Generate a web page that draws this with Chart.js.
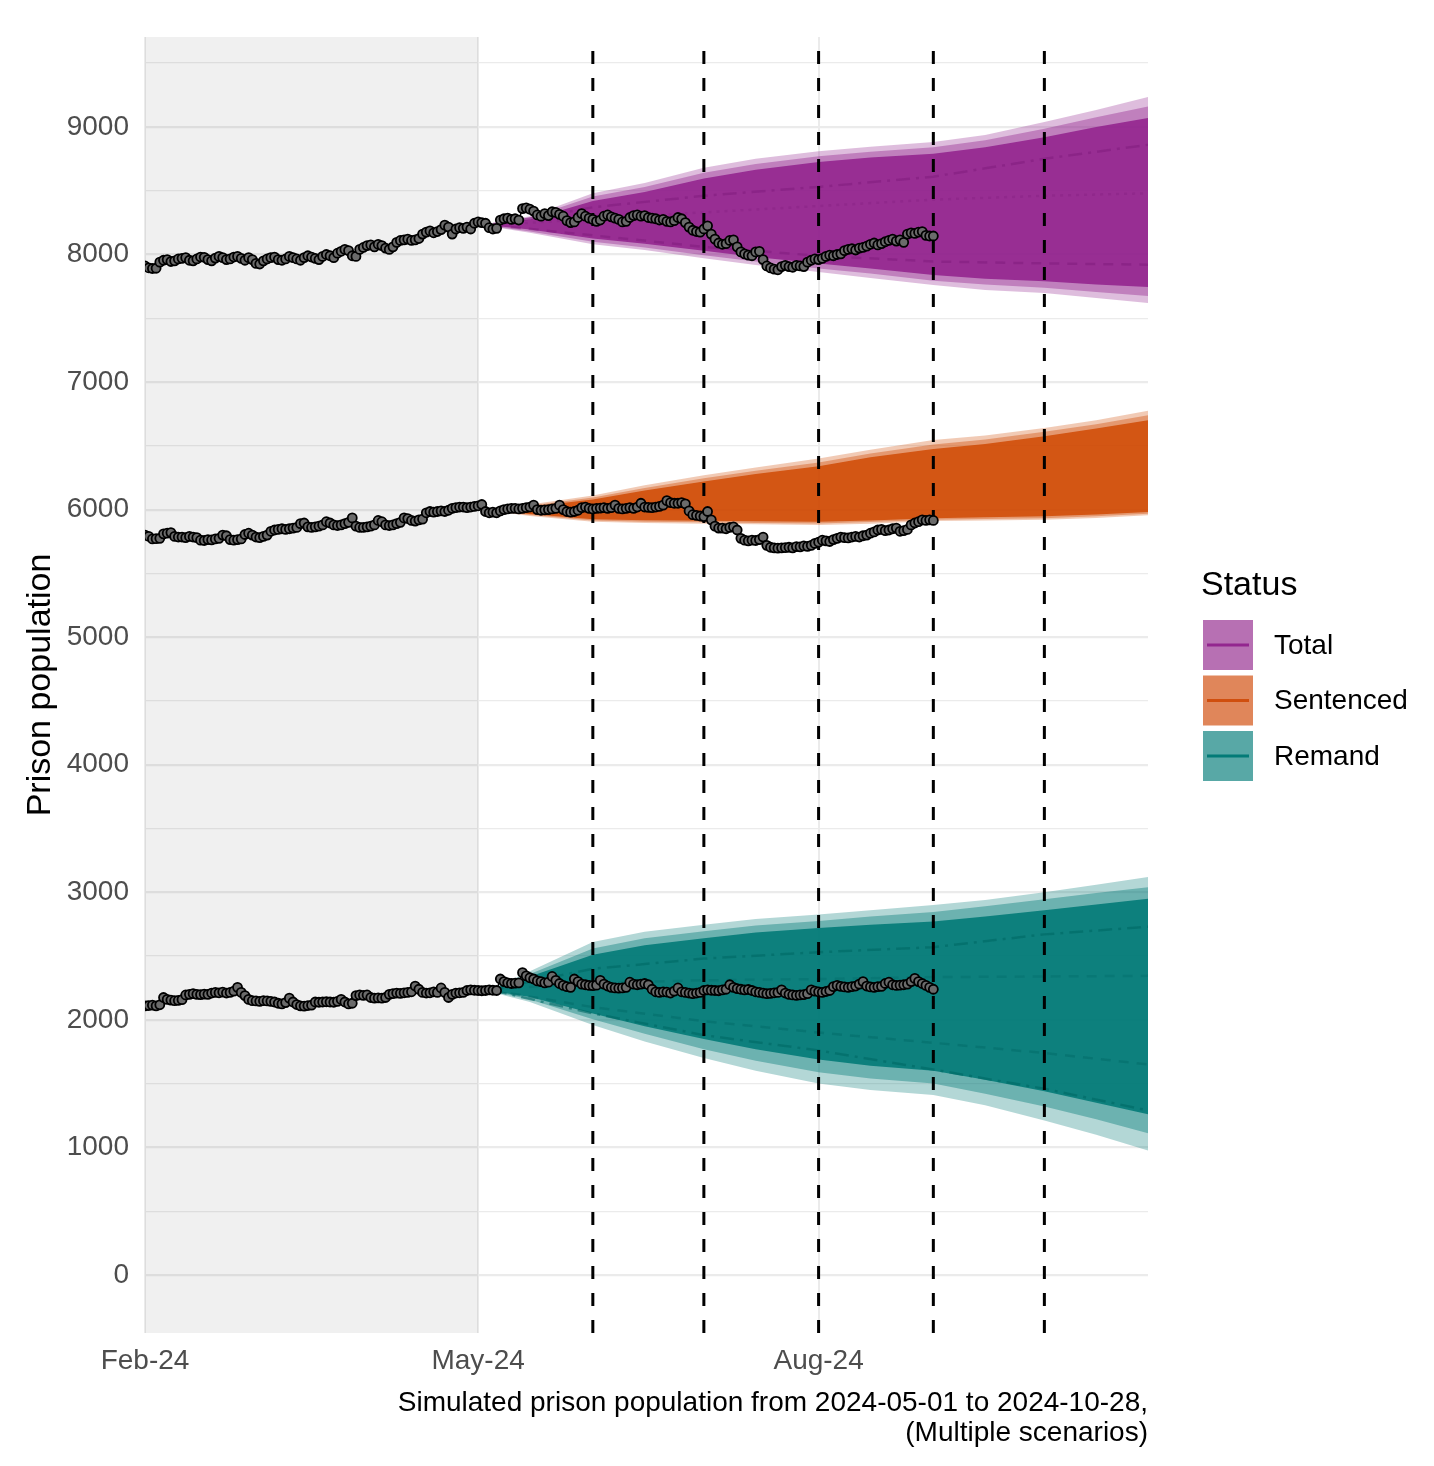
<!DOCTYPE html>
<html><head><meta charset="utf-8">
<script src="https://cdn.jsdelivr.net/npm/chart.js@4.4.1/dist/chart.umd.min.js"></script>
<style>html,body{margin:0;padding:0;background:#fff;}canvas{display:block;}</style>
</head><body>
<canvas id="c" width="1434" height="1466"></canvas>
<script>
// ---------------- DATA ----------------
const obsStart = '2024-02-01';
const totalObs = [
7910,7895,7890,7892,7940,
7955,7960,7945,7950,7965,7970,
7975,7955,7950,7965,7980,7978,7960,7950,7972,7985,
7975,7960,7965,7980,7985,7970,7955,7975,7960,7930,
7925,7950,7965,7975,7980,7960,7955,7965,7985,7975,
7965,7955,7975,7990,7980,7970,7960,7985,8000,7990,
7975,8010,8025,8040,8030,
7990,7985,
8040,8055,8070,8075,8060,8080,8070,8050,8040,
8060,8095,8110,8115,8120,8110,8115,8125,
8160,8175,8185,8170,8180,8195,
8230,8215,
8160,
8200,8210,8205,8215,8200,
8245,8255,8250,8245,
8210,8200,8205,
8270,8280,8285,8275,8280,8270,
8360,8365,8355,8340,
8310,8300,8320,8305,
8335,8330,8315,8300,
8265,8250,8255,8290,
8320,8300,8285,8275,
8260,8270,8300,
8310,8295,8285,8275,
8255,8260,8290,
8305,8310,8300,8305,8290,
8285,8280,8270,8275,8260,8255,8265,
8290,8280,8250,
8215,8190,8180,8175,
8200,8225,
8160,8120,8090,8080,
8085,8110,8115,
8060,8020,8005,7995,7990,
8020,8025,
7960,7910,7895,
7885,7880,7905,7915,
7905,7900,7915,7910,7905,
7940,7955,7965,7960,7970,
7985,7995,7990,8000,8005,
8030,8040,8045,8035,8050,8055,
8065,8080,8090,8075,8085,
8100,8110,8120,8105,8115,8095,
8160,8170,8165,8175,8180,
8150,8145,8145];

const sentencedObs = [
5800,5790,5770,5772,5775,
5810,5815,5820,
5790,5785,5785,5780,5790,5785,5780,
5760,5758,5765,5762,5770,5775,
5800,5795,
5765,5760,5765,5770,
5805,5815,5800,
5785,5780,5790,5800,
5830,5840,5845,5850,5845,5850,5855,5860,
5890,5895,
5865,5860,5865,5870,5880,
5905,5895,
5880,5875,5880,5890,5900,
5935,
5870,5860,5860,5865,5870,5880,
5915,5905,
5880,5875,5880,5890,5900,
5935,5930,
5915,5910,5920,5925,
5975,5985,5980,5985,5990,5985,5995,
6010,6015,6020,6020,6015,6020,6025,6030,6040,
5985,5975,5980,5975,5990,
6000,6005,6010,6010,6005,6010,6015,6020,6035,
6000,5995,5998,6000,6005,6010,
6035,6000,5985,
5980,5985,5995,6015,
6020,6010,6005,6010,6012,6015,6010,6015,6035,
6010,6005,6010,6015,6010,6020,
6050,
6020,6018,6015,6020,6025,6035,
6070,6055,6050,6050,6055,6045,
5990,5960,5955,5950,
5945,5985,
5920,5870,5855,5855,5850,5860,
5865,5840,
5775,5760,5755,5760,5758,5765,
5785,
5720,5705,5700,5698,5700,5702,5705,5700,5710,5708,5715,5712,5720,5735,
5745,5760,5755,5750,5765,
5775,5785,5780,5778,5785,
5790,5785,5795,5800,5815,
5825,5840,5845,5835,5840,5850,5855,
5830,5835,5845,
5880,5895,5905,5920,5915,5920,5915];

const remandObs = [
2110,2112,2115,2110,2118,
2175,
2160,2155,2150,2152,2158,
2195,2200,2205,2200,2198,2202,2200,
2210,2215,2212,2218,2210,2215,2225,
2255,
2215,2190,
2160,2150,2148,2145,2150,2148,2145,2140,2130,2125,2135,
2170,
2140,2120,2110,2108,2112,2115,
2140,2138,2140,2142,2140,2138,2145,
2160,2140,
2125,
2130,2190,2195,2192,
2195,2175,2170,2172,2170,2175,
2200,2205,2210,2208,2212,2215,
2220,2265,
2240,2215,2210,2212,2220,
2215,2250,
2215,2175,
2200,2210,2212,2215,2230,
2235,2232,2230,2228,2230,2235,2232,2230,
2320,2300,2290,2285,2288,2290,
2370,2345,2330,2320,2305,
2300,2290,2295,2340,
2310,2285,2270,2260,2255,
2320,2300,2280,2275,2270,
2268,2272,
2310,2280,2265,2255,2250,2248,
2250,2255,
2295,2280,2275,2280,2285,
2275,2240,2220,2215,2220,2218,
2210,2225,2250,
2220,2215,2210,2205,2210,2215,
2230,2235,2232,2230,2228,2235,2240,
2275,2255,
2245,2240,2235,2238,2230,2220,
2215,2210,2205,2208,2212,2215,
2235,2210,
2200,2195,2192,2195,2198,2205,
2235,2225,
2220,2215,2222,2230,2260,
2270,2262,2258,2255,2260,2265,
2280,2300,
2265,2258,2255,2260,2262,
2285,2295,
2275,2270,2272,2275,2280,
2300,2325,
2300,2285,2270,2255,2240];

// simulated ribbons (outer / middle / core envelopes)
const ribbonDates = ['2024-05-05','2024-05-15','2024-06-01','2024-06-15','2024-07-01','2024-07-15','2024-08-01','2024-08-15','2024-09-01','2024-09-15','2024-10-01','2024-10-15','2024-10-29'];
const totOuterHi = [8250,8300,8480,8560,8680,8750,8810,8845,8882,8937,9039,9133,9235];
const totOuterLo = [8215,8170,8080,8035,7970,7918,7863,7816,7760,7722,7698,7659,7620];
const totMidHi   = [8245,8290,8455,8530,8640,8710,8770,8805,8840,8895,8985,9075,9160];
const totMidLo   = [8220,8180,8100,8055,7995,7945,7890,7850,7795,7765,7740,7705,7675];
const totCoreHi  = [8240,8275,8420,8490,8595,8665,8725,8760,8790,8840,8920,9000,9070];
const totCoreLo  = [8225,8195,8125,8085,8030,7980,7930,7890,7840,7810,7790,7765,7745];

const senOuterHi = [6010,6040,6110,6190,6270,6330,6400,6470,6545,6580,6640,6700,6775];
const senOuterLo = [5990,5950,5905,5895,5890,5885,5880,5890,5910,5915,5920,5935,5955];
const senMidHi   = [6005,6030,6095,6170,6245,6305,6370,6440,6510,6550,6610,6670,6740];
const senMidLo   = [5992,5958,5915,5905,5900,5895,5892,5902,5920,5926,5932,5948,5968];
const senCoreHi  = [6000,6022,6080,6150,6220,6280,6340,6410,6475,6515,6575,6635,6700];
const senCoreLo  = [5995,5966,5925,5917,5912,5908,5905,5915,5932,5940,5948,5962,5982];

const remOuterHi = [2250,2380,2610,2690,2745,2790,2825,2860,2900,2940,3000,3060,3120];
const remOuterLo = [2215,2140,1960,1830,1700,1600,1500,1450,1410,1330,1210,1100,975];
const remMidHi   = [2245,2360,2560,2640,2695,2740,2775,2810,2845,2890,2945,2995,3040];
const remMidLo   = [2220,2160,2005,1890,1770,1680,1590,1540,1500,1420,1320,1220,1110];
const remCoreHi  = [2240,2340,2510,2585,2640,2685,2720,2745,2770,2810,2860,2905,2950];
const remCoreLo  = [2225,2180,2050,1950,1850,1770,1690,1640,1600,1530,1440,1350,1260];

// scenario median lines
const scenDates = ['2024-05-05','2024-06-01','2024-07-01','2024-08-01','2024-09-01','2024-10-01','2024-10-29'];
const totScenA = [8230,8370,8460,8530,8610,8750,8860];
const totScenB = [8230,8150,8060,7990,7945,7930,7920];
const totScenC = [8230,8280,8330,8380,8430,8460,8480];
const remScenA = [2240,2400,2480,2530,2570,2670,2730];
const remScenB = [2230,2050,1880,1760,1610,1460,1290];
const remScenC = [2230,2100,1990,1900,1820,1740,1650];
const remScenD = [2240,2290,2310,2320,2335,2340,2345];

const vlineDates = ['2024-06-01','2024-07-01','2024-08-01','2024-09-01','2024-10-01'];
const greyRegion = ['2024-02-01','2024-05-01'];
const xRange = ['2024-02-01','2024-10-29'];
const xTickDates = ['2024-02-01','2024-05-01','2024-08-01'];
const xTickLabels = ['Feb-24','May-24','Aug-24'];
const yRange = [-455, 9705];
const legendTitle = 'Status';
const legendLabels = ['Total','Sentenced','Remand'];
const xTitle = ['Simulated prison population from 2024-05-01 to 2024-10-28,', '(Multiple scenarios)'];
const yTitle = 'Prison population';

// ---------------- STYLE ----------------
const FONT = '"Liberation Sans", Arial, Helvetica, sans-serif';
const RGB = {tot:'147,38,143', sen:'208,78,10', rem:'3,123,119'};
const keyFill = ['#B770B3','#E0865A','#58A8A6'];
const keyLine = ['#93268F','#D04E0E','#037B77'];

const base = Date.UTC(2024,1,1);
function dayOf(s){ const [y,m,d]=s.split('-').map(Number); return (Date.UTC(y,m-1,d)-base)/86400000; }

const datasets = [];
function band(lo, hi, rgb, alpha){
  const pts = arr => arr.map((v,i)=>({x: dayOf(ribbonDates[i]), y: v}));
  datasets.push({data: pts(lo), borderColor:'rgba(0,0,0,0)', borderWidth:0, pointRadius:0, fill:false, order:10});
  datasets.push({data: pts(hi), borderColor:'rgba(0,0,0,0)', borderWidth:0, pointRadius:0, fill:'-1', backgroundColor:`rgba(${rgb},${alpha})`, order:10});
}
band(totOuterLo, totOuterHi, RGB.tot, 0.30);
band(totMidLo, totMidHi, RGB.tot, 0.40);
band(totCoreLo, totCoreHi, RGB.tot, 0.90);
band(senOuterLo, senOuterHi, RGB.sen, 0.30);
band(senMidLo, senMidHi, RGB.sen, 0.40);
band(senCoreLo, senCoreHi, RGB.sen, 0.90);
band(remOuterLo, remOuterHi, RGB.rem, 0.30);
band(remMidLo, remMidHi, RGB.rem, 0.40);
band(remCoreLo, remCoreHi, RGB.rem, 0.90);

function scen(arr, color, dash){
  datasets.push({data: arr.map((v,i)=>({x: dayOf(scenDates[i]), y: v})), borderColor: color, borderWidth: 2.5, borderDash: dash, pointRadius: 0, fill: false, order: 5});
}
const DASHDOT = [14,6,3,6], DASHED = [10,8], DOTTED = [3,5];
scen(totScenA, 'rgba(125,25,122,0.45)', DASHDOT);
scen(totScenB, 'rgba(125,25,122,0.45)', DASHED);
scen(totScenC, 'rgba(125,25,122,0.30)', DOTTED);
scen(remScenA, 'rgba(0,105,102,0.6)', DASHDOT);
scen(remScenB, 'rgba(0,105,102,0.6)', DASHDOT);
scen(remScenC, 'rgba(0,105,102,0.45)', DASHED);
scen(remScenD, 'rgba(0,105,102,0.35)', DASHED);

vlineDates.forEach(d => {
  datasets.push({data: [{x: dayOf(d), y: yRange[0]}, {x: dayOf(d), y: yRange[1]}], borderColor:'#000', borderWidth:3, borderDash:[13,14], pointRadius:0, fill:false, order:1});
});

const s0 = dayOf(obsStart);
[totalObs, sentencedObs, remandObs].forEach(arr => {
  datasets.push({data: arr.map((v,i)=>({x: s0+i, y: v})), borderColor:'#000', borderWidth:1.5, pointRadius:4.5, pointBackgroundColor:'#6B6B6B', pointBorderColor:'#000', pointBorderWidth:1.8, fill:false, tension:0, order:0});
});

const greyPlugin = {
  id:'grey',
  beforeDatasetsDraw(chart){
    const {ctx, chartArea:a, scales:{x}} = chart;
    const x0 = x.getPixelForValue(dayOf(greyRegion[0])), x1 = x.getPixelForValue(dayOf(greyRegion[1]));
    ctx.save();
    ctx.fillStyle = 'rgba(0,0,0,0.059)';
    ctx.fillRect(x0, a.top, x1-x0, a.bottom-a.top);
    ctx.restore();
  }
};
const legendPlugin = {
  id:'statusLegend',
  afterDraw(chart){
    const ctx = chart.ctx;
    ctx.save();
    ctx.textAlign='left'; ctx.textBaseline='middle';
    ctx.fillStyle='#000';
    ctx.font = '34px ' + FONT;
    ctx.fillText(legendTitle, 1201, 586);
    legendLabels.forEach((lab,i)=>{
      const y = 620 + i*55.5;
      ctx.fillStyle = keyFill[i];
      ctx.fillRect(1203, y, 50, 50);
      ctx.strokeStyle = keyLine[i]; ctx.lineWidth = 3;
      ctx.beginPath(); ctx.moveTo(1207, y+25); ctx.lineTo(1249, y+25); ctx.stroke();
      ctx.fillStyle = '#000';
      ctx.font = '28px ' + FONT;
      ctx.fillText(lab, 1274, y+26);
    });
    ctx.restore();
  }
};

new Chart(document.getElementById('c'), {
  type:'line',
  data:{datasets},
  plugins:[greyPlugin, legendPlugin],
  options:{
    responsive:false, animation:false, devicePixelRatio:1,
    layout:{padding:{left:0, right:286, top:37, bottom:0}},
    plugins:{legend:{display:false}, tooltip:{enabled:false}},
    scales:{
      x:{
        type:'linear', min: dayOf(xRange[0]), max: dayOf(xRange[1]),
        afterBuildTicks(s){ s.ticks = xTickDates.map(d=>({value: dayOf(d)})); },
        afterFit(s){ s.height = 133; },
        ticks:{ autoSkip:false, maxRotation:0, padding:11, color:'#4D4D4D', font:{family:FONT, size:28},
          callback:(v)=>{ const i = xTickDates.findIndex(d=>dayOf(d)===v); return i>=0 ? xTickLabels[i] : ''; } },
        grid:{ color:'#EBEBEB', lineWidth:2, drawTicks:false },
        border:{display:false},
        title:{ display:true, text:xTitle, align:'end', color:'#000', font:{family:FONT, size:28, lineHeight:1.07}, padding:{top:0, bottom:18} }
      },
      y:{
        type:'linear', min:yRange[0], max:yRange[1],
        afterBuildTicks(s){ const t=[]; for(let v=0; v<=9500; v+=500) t.push({value:v}); s.ticks=t; },
        afterFit(s){ s.width = 145; },
        ticks:{ autoSkip:false, padding:16, color:'#4D4D4D', font:{family:FONT, size:28},
          callback:(v)=> (v % 1000 === 0 ? String(v) : '') },
        grid:{ color:'#EBEBEB', drawTicks:false, lineWidth:(c)=> (c.tick && c.tick.value % 1000 === 0) ? 2.2 : 1.3 },
        border:{display:false},
        title:{ display:true, text:yTitle, color:'#000', font:{family:FONT, size:34}, padding:{top:20, bottom:0} }
      }
    }
  }
});
</script>
</body></html>
